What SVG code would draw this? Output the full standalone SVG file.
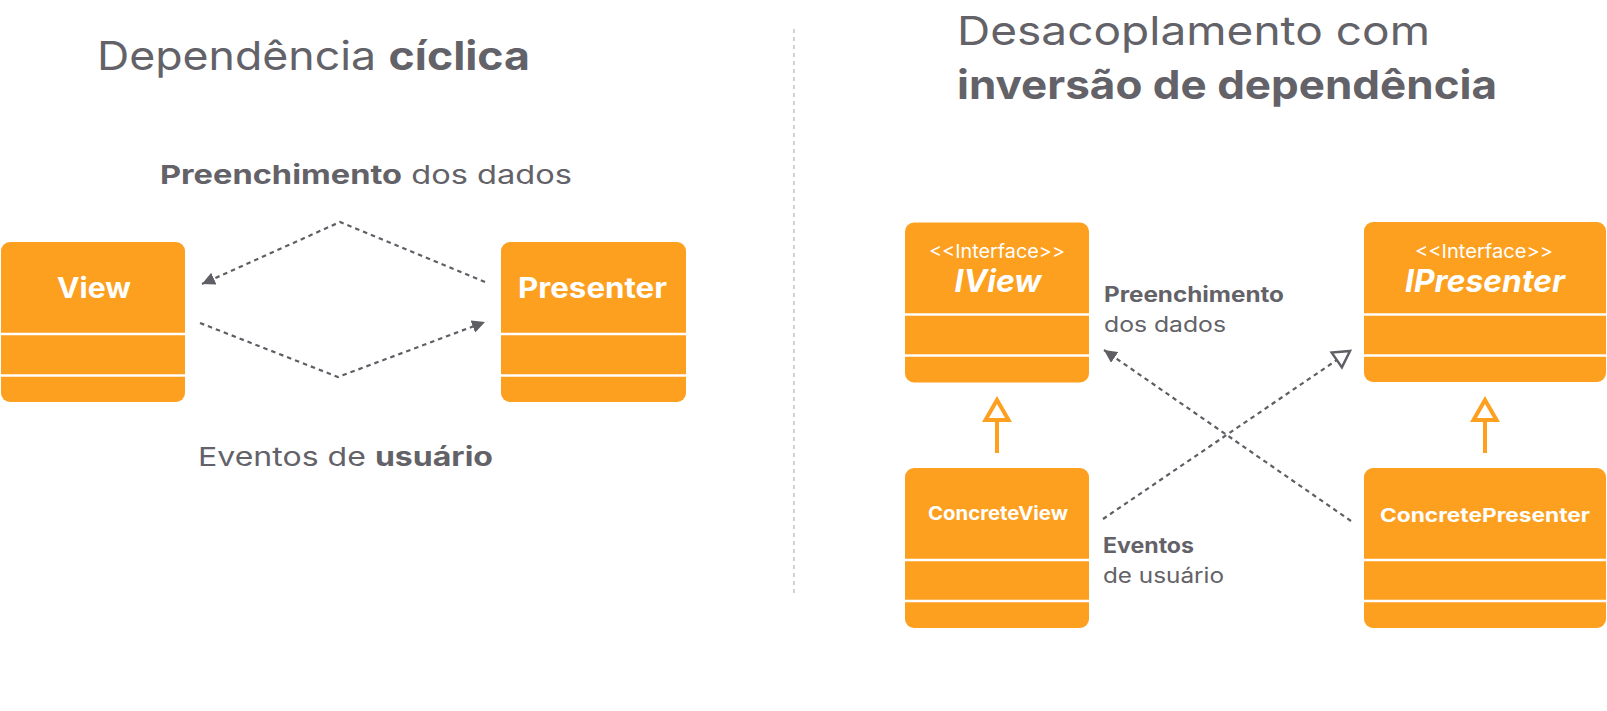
<svg xmlns="http://www.w3.org/2000/svg" width="1607" height="711" viewBox="0 0 1607 711">
  <style>
    .t { font-family: Inter, "Open Sans", "Liberation Sans", sans-serif; fill: #636268; }
    .b { font-weight: 700; }
    .box { fill: #FD9F1F; }
    .div { stroke: #ffffff; stroke-width: 2.5; }
    .bt { font-family: Inter, "Open Sans", "Liberation Sans", sans-serif; fill: #ffffff; text-anchor: middle; }
    .dash { fill: none; stroke: #5f5e64; stroke-width: 2.2; stroke-dasharray: 4.5 4; }
    .inh { fill: none; stroke: #FD9F1F; stroke-width: 4; }
  </style>
  <defs>
    <marker id="fa" viewBox="0 0 12 12" refX="12" refY="6" markerWidth="13" markerHeight="13" markerUnits="userSpaceOnUse" orient="auto">
      <path d="M0,0 L12,6 L0,12 z" fill="#5f5e64"/>
    </marker>
  </defs>
  <rect width="1607" height="711" fill="#ffffff"/>

  <!-- Titles -->
  <text class="t" x="97" y="70" font-size="40" textLength="433" lengthAdjust="spacingAndGlyphs">Dependência <tspan class="b">cíclica</tspan></text>
  <text class="t" x="957" y="45" font-size="40" textLength="473" lengthAdjust="spacingAndGlyphs">Desacoplamento com</text>
  <text class="t b" x="957" y="99" font-size="40" textLength="540" lengthAdjust="spacingAndGlyphs">inversão de dependência</text>

  <!-- separator -->
  <line x1="794" y1="29" x2="794" y2="594" stroke="#c4c4c4" stroke-width="1.5" stroke-dasharray="4 4"/>

  <!-- Left labels -->
  <text class="t" x="160" y="184" font-size="26" textLength="412" lengthAdjust="spacingAndGlyphs"><tspan class="b">Preenchimento</tspan> dos dados</text>
  <text class="t" x="198" y="466" font-size="26" textLength="295" lengthAdjust="spacingAndGlyphs">Eventos de <tspan class="b">usuário</tspan></text>

  <!-- Right labels -->
  <text class="t b" x="1104" y="302" font-size="21" textLength="180" lengthAdjust="spacingAndGlyphs">Preenchimento</text>
  <text class="t" x="1104" y="332" font-size="21" textLength="122" lengthAdjust="spacingAndGlyphs">dos dados</text>
  <text class="t b" x="1103" y="553" font-size="21" textLength="91" lengthAdjust="spacingAndGlyphs">Eventos</text>
  <text class="t" x="1103" y="583" font-size="21" textLength="121" lengthAdjust="spacingAndGlyphs">de usuário</text>

  <!-- Nodes -->
  <g id="view">
    <rect class="box" x="1" y="242" width="184" height="160" rx="9"/>
    <line class="div" x1="1" y1="334" x2="185" y2="334"/>
    <line class="div" x1="1" y1="375.5" x2="185" y2="375.5"/>
    <text class="bt b" x="94" y="298" font-size="28" textLength="74" lengthAdjust="spacingAndGlyphs">View</text>
  </g>
  <g id="presenter">
    <rect class="box" x="501" y="242" width="185" height="160" rx="9"/>
    <line class="div" x1="501" y1="334" x2="686" y2="334"/>
    <line class="div" x1="501" y1="375.5" x2="686" y2="375.5"/>
    <text class="bt b" x="592.5" y="298" font-size="28" textLength="149" lengthAdjust="spacingAndGlyphs">Presenter</text>
  </g>
  <g id="iview">
    <rect class="box" x="905" y="222.5" width="184" height="160" rx="9"/>
    <line class="div" x1="905" y1="314.5" x2="1089" y2="314.5"/>
    <line class="div" x1="905" y1="355.5" x2="1089" y2="355.5"/>
    <text class="bt" x="997" y="258" font-size="19" textLength="136" lengthAdjust="spacingAndGlyphs">&lt;&lt;Interface&gt;&gt;</text>
    <text class="bt b" x="998" y="292" font-size="31" font-style="italic" textLength="87" lengthAdjust="spacingAndGlyphs">IView</text>
  </g>
  <g id="concreteview">
    <rect class="box" x="905" y="468" width="184" height="160" rx="9"/>
    <line class="div" x1="905" y1="560" x2="1089" y2="560"/>
    <line class="div" x1="905" y1="601" x2="1089" y2="601"/>
    <text class="bt b" x="998" y="520" font-size="19" textLength="140" lengthAdjust="spacingAndGlyphs">ConcreteView</text>
  </g>
  <g id="ipresenter">
    <rect class="box" x="1364" y="222" width="242" height="160" rx="9"/>
    <line class="div" x1="1364" y1="314.5" x2="1606" y2="314.5"/>
    <line class="div" x1="1364" y1="355.5" x2="1606" y2="355.5"/>
    <text class="bt" x="1484" y="258" font-size="19" textLength="138" lengthAdjust="spacingAndGlyphs">&lt;&lt;Interface&gt;&gt;</text>
    <text class="bt b" x="1485" y="292" font-size="31" font-style="italic" textLength="160" lengthAdjust="spacingAndGlyphs">IPresenter</text>
  </g>
  <g id="concretepresenter">
    <rect class="box" x="1364" y="468" width="242" height="160" rx="9"/>
    <line class="div" x1="1364" y1="560" x2="1606" y2="560"/>
    <line class="div" x1="1364" y1="601" x2="1606" y2="601"/>
    <text class="bt b" x="1485" y="522" font-size="19" textLength="210" lengthAdjust="spacingAndGlyphs">ConcretePresenter</text>
  </g>

  <!-- Connectors -->
  <g id="connectors">
    <path class="dash" d="M485,282 L340,222 L202,284" marker-end="url(#fa)"/>
    <path class="dash" d="M200,323 L338,377 L485,322" marker-end="url(#fa)"/>
    <path class="dash" d="M1351,521 L1104,350" marker-end="url(#fa)"/>
    <path class="dash" d="M1103,519 L1336.8,360"/>
    <polygon points="1350,351 1341.9,367.4 1331.7,352.6" fill="#ffffff" stroke="#5f5e64" stroke-width="2.5" stroke-linejoin="miter"/>
    <line class="inh" x1="997" y1="421" x2="997" y2="453"/>
    <polygon class="inh" points="997,400 985.5,420 1008.5,420" fill="#ffffff"/>
    <line class="inh" x1="1485" y1="421" x2="1485" y2="453"/>
    <polygon class="inh" points="1485,400 1473.5,420 1496.5,420" fill="#ffffff"/>
  </g>
</svg>
